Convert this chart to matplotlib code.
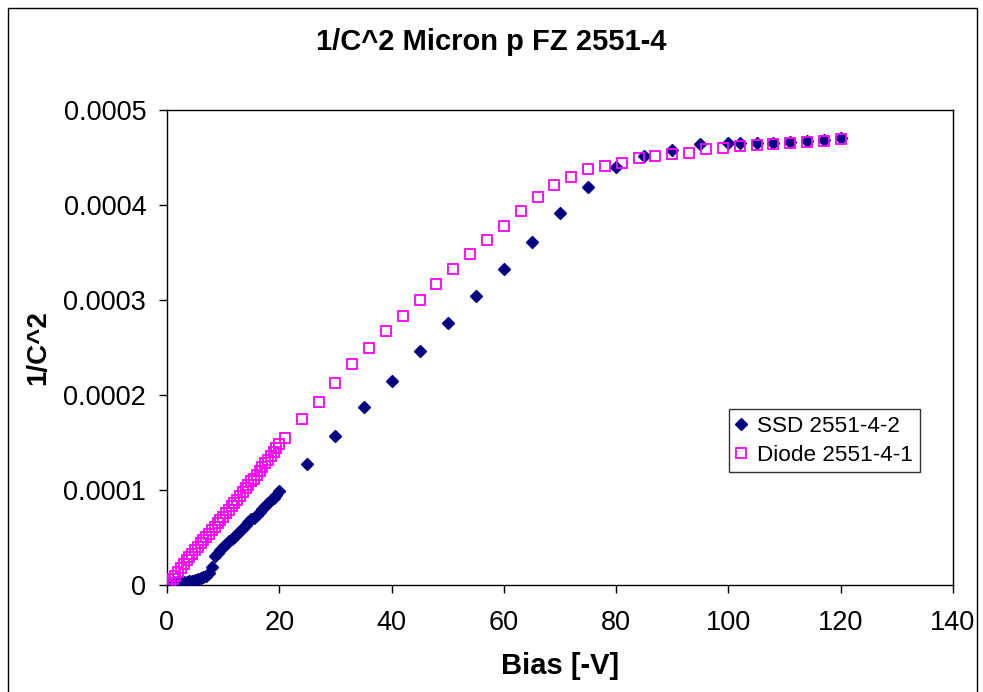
import matplotlib.pyplot as plt
from matplotlib.patches import Rectangle
from matplotlib.ticker import FuncFormatter

# SSD 2551-4-2 : balayage fin 0-20 V puis points espaces
ssd_bias = [0, 0.5, 1, 1.5, 2, 2.5, 3, 3.5, 4, 4.5, 5, 5.5, 6, 6.5, 7, 7.5, 8, 8.5, 9, 9.5,
            10, 10.5, 11, 11.5, 12, 12.5, 13, 13.5, 14, 14.5, 15, 15.5, 16, 16.5, 17, 17.5,
            18, 18.5, 19, 19.5, 20,
            25, 30, 35, 40, 45, 50, 55, 60, 65, 70, 75, 80, 85, 90, 95, 100,
            102, 105, 108, 111, 114, 117, 120]
ssd_inv_c2 = [0.0, 0.005, 0.01, 0.015, 0.02, 0.025, 0.03, 0.035, 0.04, 0.045, 0.05, 0.06, 0.07,
              0.085, 0.10, 0.13, 0.19, 0.31, 0.34, 0.37, 0.40, 0.43, 0.46, 0.48, 0.51, 0.54,
              0.57, 0.60, 0.63, 0.66, 0.69, 0.71, 0.74, 0.77, 0.80, 0.83, 0.86, 0.89, 0.92,
              0.95, 0.99,
              1.27, 1.57, 1.87, 2.15, 2.46, 2.76, 3.04, 3.33, 3.61, 3.92, 4.19, 4.40, 4.52,
              4.58, 4.64, 4.65,
              4.65, 4.656, 4.656, 4.663, 4.67, 4.684, 4.70]

# Diode 2551-4-1
diode_bias = [0, 0.5, 1, 1.5, 2, 2.5, 3, 3.5, 4, 4.5, 5, 5.5, 6, 6.5, 7, 7.5, 8, 8.5, 9, 9.5,
              10, 10.5, 11, 11.5, 12, 12.5, 13, 13.5, 14, 14.5, 15, 15.5, 16, 16.5, 17, 17.5,
              18, 18.5, 19, 19.5, 20,
              21, 24, 27, 30, 33, 36, 39, 42, 45, 48, 51, 54, 57, 60, 63, 66, 69, 72, 75, 78,
              81, 84, 87, 90, 93, 96, 99, 102, 105, 108, 111, 114, 117, 120]
diode_inv_c2 = [0.0, 0.02, 0.06, 0.10, 0.14, 0.18, 0.22, 0.26, 0.30, 0.33, 0.37, 0.40, 0.44,
                0.47, 0.51, 0.54, 0.58, 0.61, 0.65, 0.68, 0.72, 0.76, 0.79, 0.83, 0.86, 0.90,
                0.94, 0.98, 1.02, 1.05, 1.09, 1.12, 1.16, 1.20, 1.24, 1.28, 1.32, 1.36, 1.40,
                1.44, 1.48,
                1.55, 1.744, 1.93, 2.13, 2.33, 2.50, 2.67, 2.83, 3.00, 3.17, 3.33, 3.48, 3.63,
                3.78, 3.94, 4.08, 4.21, 4.30, 4.375, 4.41, 4.44, 4.49, 4.52, 4.54, 4.55, 4.585,
                4.60, 4.62, 4.63, 4.64, 4.65, 4.66, 4.67, 4.69]

# valeurs lues en unites de 1e-4
ssd_inv_c2 = [v * 1e-4 for v in ssd_inv_c2]
diode_inv_c2 = [v * 1e-4 for v in diode_inv_c2]

plt.rcParams['font.family'] = ['Liberation Sans', 'DejaVu Sans']

fig = plt.figure(figsize=(9.83, 6.92), dpi=100)
ax = fig.add_axes([167 / 983, 1 - 585 / 692, 786 / 983, 475 / 692])

ax.plot(ssd_bias, ssd_inv_c2, linestyle='none', marker='D', markersize=5.8,
        color='#000080', label='SSD 2551-4-2', zorder=3)
ax.plot(diode_bias, diode_inv_c2, linestyle='none', marker='s', markersize=7.5,
        markerfacecolor='none', markeredgecolor='#FF00FF', markeredgewidth=1.3,
        label='Diode 2551-4-1', zorder=4)

ax.set_xlim(0, 140)
ax.set_ylim(0, 0.0005)
ax.set_xticks(range(0, 141, 20))
ax.set_yticks([0, 0.0001, 0.0002, 0.0003, 0.0004, 0.0005])
ax.yaxis.set_major_formatter(FuncFormatter(lambda v, p: '0' if v == 0 else '%.4f' % v))
ax.tick_params(direction='out', length=6, width=1, labelsize=19.5)
ax.tick_params(axis='y', pad=9)
ax.tick_params(axis='x', pad=12)
for s in ax.spines.values():
    s.set_linewidth(1)

ax.set_xlabel('Bias [-V]', fontsize=21, fontweight='bold')
ax.xaxis.set_label_coords(0.5, -0.14)
ax.set_ylabel('1/C^2', fontsize=20, fontweight='bold')
ax.yaxis.set_label_coords(-0.147, 0.5)
fig.text(0.5, 1 - 42 / 692, '1/C^2 Micron p FZ 2551-4', fontsize=21, fontweight='bold',
         ha='center', va='center')

leg = ax.legend(loc='upper left', bbox_to_anchor=(562 / 786, 1 - 299 / 475),
                fontsize=16.2, frameon=True, fancybox=False, handlelength=0.5,
                handletextpad=0.45, borderpad=0.3, labelspacing=0.35, borderaxespad=0)
leg.get_frame().set_edgecolor('black')
leg.get_frame().set_linewidth(1)

# cadre exterieur du graphique
fig.patches.append(Rectangle((8 / 983, -0.01), 969 / 983, 1 - 8 / 692 + 0.01,
                             transform=fig.transFigure, fill=False,
                             edgecolor='black', linewidth=1))

plt.savefig('out.png', dpi=100)
